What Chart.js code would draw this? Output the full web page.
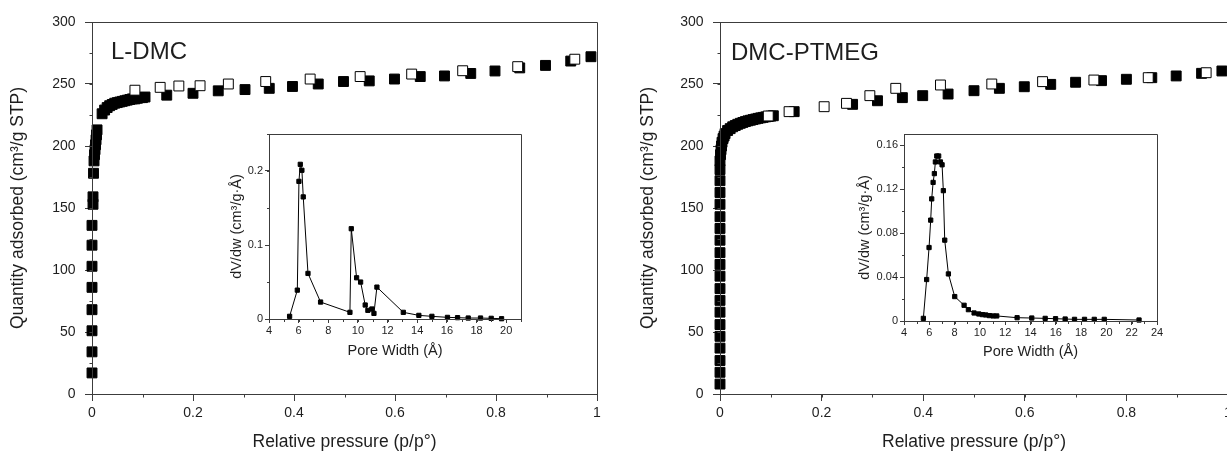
<!DOCTYPE html>
<html><head><meta charset="utf-8">
<script src="https://cdn.jsdelivr.net/npm/chart.js@4.4.0/dist/chart.umd.min.js"></script>
<style>
html,body{margin:0;padding:0;background:#fff;overflow:hidden;width:1227px;height:453px;}
.box{position:absolute;}
canvas{display:block;}
</style></head><body>
<div class="box" style="left:0;top:0"><canvas id="mainL" width="610" height="453"></canvas></div>
<div class="box" style="left:610px;top:0"><canvas id="mainR" width="630" height="453"></canvas></div>
<div class="box" style="left:200px;top:120px"><canvas id="insL" width="340" height="250"></canvas></div>
<div class="box" style="left:830px;top:120px"><canvas id="insR" width="350" height="250"></canvas></div>
<script>
// ---------- DATA ----------
// L-DMC isotherm (adsorption: filled, desorption: open)
const ldmcAdsX = [0,0,0,0,0,0,0,0,0.002,0.002,0.003,0.004,0.005,0.006,0.007,0.008,0.009,0.01,0.02,0.025,0.03,0.035,0.04,0.045,0.05,0.055,0.06,0.065,0.07,0.075,0.08,0.085,0.09,0.095,0.1,0.105,0.148,0.2,0.25,0.303,0.351,0.397,0.448,0.498,0.549,0.599,0.65,0.698,0.75,0.798,0.847,0.898,0.948,0.988];
const ldmcAdsY = [17,34,51,68,86,103,120,136,153,159,178,188,193,197,201,205,209,213,226,229,231,232.5,233.5,234.5,235,235.5,236,236.5,237,237.5,238,238,238.5,239,239,239.5,241,242.5,244.5,245.5,246.5,248,250,252,252.5,254,256,256.5,258.5,260.5,263,265,268.5,272];
const ldmcDesX = [0.085,0.135,0.172,0.214,0.27,0.344,0.432,0.531,0.633,0.734,0.843,0.956];
const ldmcDesY = [245,247.3,248.4,248.6,250,252,254,256,258,260.7,264,270];

// DMC-PTMEG isotherm
const ptAdsX = [0,0,0,0,0,0,0,0,0,0,0,0,0,0,0,0,0,0,0,0,0.001,0.002,0.003,0.004,0.006,0.008,0.01,0.015,0.02,0.025,0.03,0.035,0.04,0.045,0.05,0.055,0.06,0.065,0.07,0.075,0.08,0.085,0.09,0.095,0.1,0.105,0.146,0.261,0.31,0.359,0.399,0.449,0.5,0.55,0.599,0.651,0.7,0.751,0.8,0.85,0.898,0.948,0.988];
const ptAdsY = [8,17.5,27,37,46.5,56,66,75.5,85,95,104.5,114,124,133.5,143,153,162.5,172,181,188,193,197,200,203,206,208,210,212.5,214,215.5,216.5,217.5,218.3,219,219.7,220.3,220.8,221.3,221.8,222.3,222.7,223.1,223.5,223.8,224.1,224.4,227.7,233.6,236.5,239,240.6,241.9,244.6,246.5,247.8,249.7,251.4,252.7,253.8,255.1,256.5,258.6,260.5];
const ptDesX = [0.095,0.136,0.205,0.249,0.295,0.346,0.434,0.535,0.635,0.736,0.843,0.957];
const ptDesY = [224.2,227.7,231.7,234.4,240.6,246.5,249.2,250,251.9,253.2,255.1,259.1];

// Pore size distributions (insets)
const ldmcPoreW = [5.39,5.91,6.02,6.11,6.22,6.31,6.63,7.48,9.46,9.55,9.91,10.18,10.49,10.67,10.94,11.08,11.28,13.06,14.11,14.99,16.04,16.72,17.44,18.27,18.99,19.69];
const ldmcDvDw  = [0.0036,0.039,0.186,0.209,0.201,0.165,0.0616,0.0229,0.009,0.122,0.0557,0.0499,0.0189,0.0117,0.0135,0.0076,0.0431,0.009,0.0049,0.0036,0.0022,0.0018,0.0013,0.0013,0.0009,0.0004];
const ptPoreW = [5.53,5.79,5.98,6.11,6.19,6.30,6.40,6.48,6.59,6.74,6.88,7.01,7.11,7.22,7.51,8.01,8.75,9.09,9.54,9.91,10.2,10.46,10.75,11.05,11.33,12.94,14.1,15.16,15.98,16.74,17.48,18.27,19.04,19.83,22.58];
const ptDvDw  = [0.0024,0.0377,0.0668,0.0917,0.111,0.126,0.134,0.1446,0.150,0.150,0.1446,0.142,0.1185,0.0735,0.0428,0.0222,0.0143,0.0103,0.0073,0.0064,0.0058,0.0055,0.0049,0.0046,0.0046,0.003,0.0027,0.0024,0.0021,0.0018,0.0015,0.0015,0.0015,0.0015,0.0009];

// Tick / label text
const mainXTitle = 'Relative pressure (p/p°)';
const mainYTitle = 'Quantity adsorbed (cm³/g STP)';
const insetXTitle = 'Pore Width (Å)';
const insetYTitle = 'dV/dw (cm³/g·Å)';
const sampleNames = ['L-DMC', 'DMC-PTMEG'];

// ---------- STYLE ----------
const AXIS = '#3c3c3c';
const TXT = '#1e1e1e';
Chart.defaults.font.family = '"Liberation Sans", Arial, Helvetica, sans-serif';
Chart.defaults.color = TXT;

const zip = (xs, ys) => xs.map((x, i) => ({x, y: ys[i]}));
const fmt = v => String(Math.round(v * 1000) / 1000);

const framePlugin = {
  id: 'frame',
  afterDraw(chart, args, o) {
    const {ctx, chartArea: a, scales} = chart;
    ctx.save();
    ctx.strokeStyle = AXIS; ctx.lineWidth = 1;
    const L = Math.round(a.left) + 0.5, T = Math.round(a.top) + 0.5;
    const R = Math.round(a.right) + 0.5, B = Math.round(a.bottom) + 0.5;
    ctx.beginPath();
    ctx.moveTo(L, T); ctx.lineTo(R, T); ctx.lineTo(R, B); ctx.lineTo(L, B); ctx.closePath();
    // minor ticks
    const xs = scales.x, ys = scales.y;
    if (o.xMinor) {
      for (let i = 0; ; i++) {
        const v = xs.min + i * o.xMinor;
        if (v > xs.max + 1e-9) break;
        const px = Math.round(xs.getPixelForValue(v)) + 0.5;
        ctx.moveTo(px, B); ctx.lineTo(px, B + o.minorLen);
      }
    }
    if (o.yMinor) {
      for (let i = 0; ; i++) {
        const v = ys.min + i * o.yMinor;
        if (v > ys.max + 1e-9) break;
        const py = Math.round(ys.getPixelForValue(v)) + 0.5;
        ctx.moveTo(L, py); ctx.lineTo(L - o.minorLen, py);
      }
    }
    ctx.stroke();
    if (o.label) {
      ctx.fillStyle = TXT;
      ctx.font = o.label.size + 'px "Liberation Sans", Arial, sans-serif';
      ctx.textBaseline = 'alphabetic';
      ctx.textAlign = 'left';
      ctx.fillText(o.label.text, a.left + o.label.dx, o.label.y);
    }
    ctx.restore();
  }
};

function axis(opts) {
  return {
    type: 'linear', min: opts.min, max: opts.max,
    ticks: {stepSize: opts.step, includeBounds: false, padding: opts.pad, color: TXT,
            font: {size: opts.fs}, callback: v => fmt(v), maxRotation: 0, autoSkip: false},
    grid: {drawOnChartArea: false, drawTicks: true, tickLength: opts.tl, color: AXIS, lineWidth: 1},
    border: {display: true, color: AXIS, width: 1},
    title: {display: true, text: opts.title, color: TXT, font: {size: opts.tfs}, padding: opts.tpad},
    afterFit: s => { if (opts.w !== undefined) s.width = opts.w; if (opts.h !== undefined) s.height = opts.h; }
  };
}

function mainChart(id, adsX, adsY, desX, desY, yw, yTitlePad, label, padRight) {
  return new Chart(document.getElementById(id), {
    type: 'scatter',
    data: {datasets: [
      {data: zip(desX, desY), pointStyle: 'rect', pointRadius: 7, pointBackgroundColor: '#fff',
       pointBorderColor: '#000', pointBorderWidth: 1, showLine: false, clip: false},
      {data: zip(adsX, adsY), pointStyle: 'rect', pointRadius: 7, pointBackgroundColor: '#000',
       pointBorderColor: '#000', pointBorderWidth: 1, showLine: false, clip: false}
    ]},
    options: {
      responsive: false, animation: false, devicePixelRatio: 1, events: [],
      layout: {padding: {left: 0, top: 22, right: padRight, bottom: 0}},
      plugins: {legend: {display: false}, tooltip: {enabled: false},
        frame: {xMinor: 0.1, yMinor: 25, minorLen: 3, label: label}},
      scales: {
        x: axis({min: 0, max: 1, step: 0.2, pad: 4, fs: 14, tl: 7, title: mainXTitle, tfs: 17.5,
                 tpad: {top: 0, bottom: 0}, h: 59}),
        y: axis({min: 0, max: 300, step: 50, pad: 9.5, fs: 14, tl: 7, title: mainYTitle, tfs: 17.5,
                 tpad: {top: yTitlePad, bottom: 0}, w: yw})
      }
    },
    plugins: [framePlugin]
  });
}

function insetChart(id, xs, ys, xmax, ymax, ystep, yMinor, yw, yTitlePad, xTitlePad, padRight, xh) {
  return new Chart(document.getElementById(id), {
    type: 'scatter',
    data: {datasets: [
      {data: zip(xs, ys), pointStyle: 'rect', pointRadius: 3, pointBackgroundColor: '#000',
       pointBorderColor: '#000', pointBorderWidth: 1, showLine: true, borderColor: '#000',
       borderWidth: 1, clip: false}
    ]},
    options: {
      responsive: false, animation: false, devicePixelRatio: 1, events: [],
      layout: {padding: {left: 0, top: 14, right: padRight, bottom: 0}},
      plugins: {legend: {display: false}, tooltip: {enabled: false},
        frame: {xMinor: 1, yMinor: yMinor, minorLen: 2.5}},
      scales: {
        x: axis({min: 4, max: xmax, step: 2, pad: 1, fs: 11, tl: 4, title: insetXTitle, tfs: 14.5,
                 tpad: {top: 0, bottom: xTitlePad}, h: xh}),
        y: axis({min: 0, max: ymax, step: ystep, pad: 2, fs: 11, tl: 4, title: insetYTitle, tfs: 14.5,
                 tpad: {top: yTitlePad, bottom: 0}, w: yw})
      }
    },
    plugins: [framePlugin]
  });
}

mainChart('mainL', ldmcAdsX, ldmcAdsY, ldmcDesX, ldmcDesY, 92, 8, {text: sampleNames[0], dx: 19, y: 58.5, size: 24}, 13);
mainChart('mainR', ptAdsX, ptAdsY, ptDesX, ptDesY, 110, 28, {text: sampleNames[1], dx: 11, y: 60, size: 24}, 12);
insetChart('insL', ldmcPoreW, ldmcDvDw, 21, 0.25, 0.1, 0.05, 69, 28.3, 10.6, 19, 51);
insetChart('insR', ptPoreW, ptDvDw, 24, 0.17, 0.04, 0.02, 74, 26.3, 9.6, 23, 49);
</script>
</body></html>
